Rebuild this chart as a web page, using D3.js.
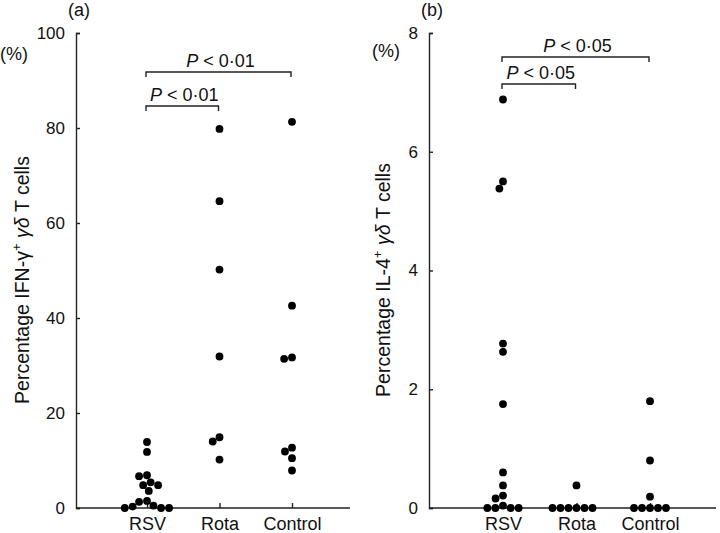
<!DOCTYPE html>
<html lang="en">
<head>
<meta charset="utf-8">
<script src="https://d3js.org/d3.v7.min.js"></script>
<style>
  body { margin: 0; background: #fff; overflow: hidden; }
  svg { display: block; }
  text { font-family: "Liberation Sans", Arial, Helvetica, sans-serif; fill: #111; }
</style>
</head>
<body>
<div id="my_dataviz"></div>
<script>

    // groups shown on the x axis
    var groups = ["RSV", "Rota", "Control"];

    // (a) percentage IFN-gamma+ gamma-delta T cells
    var ifnTicks = [0, 20, 40, 60, 80, 100];
    var rsvIfn  = [13.9, 11.8, 6.9, 6.7, 5.4, 4.8, 4.8, 3.6, 1.5, 1.3, 0.5, 0.3, 0, 0, 0];
    var rotaIfn = [79.8, 64.6, 50.2, 31.9, 14.9, 14.0, 10.2];
    var ctrlIfn = [81.3, 42.6, 31.7, 31.4, 12.7, 11.9, 10.5, 7.9];
    var ifnTests = [["RSV", "Control", "0·01"], ["RSV", "Rota", "0·01"]];

    // (b) percentage IL-4+ gamma-delta T cells
    var il4Ticks = [0, 2, 4, 6, 8];
    var rsvIl4  = [6.88, 5.5, 5.38, 2.77, 2.63, 1.75, 0.6, 0.38, 0.21, 0.16, 0.04, 0, 0, 0, 0];
    var rotaIl4 = [0.38, 0, 0, 0, 0, 0, 0];
    var ctrlIl4 = [1.8, 0.8, 0.19, 0, 0, 0, 0, 0];
    var il4Tests = [["RSV", "Control", "0·05"], ["RSV", "Rota", "0·05"]];

    var svg = d3.select("#my_dataviz")
      .append("svg")
        .attr("width", 720)
        .attr("height", 533);

    var r = 3.9, gap = 8;

    // simple beeswarm: put each dot as near the centre as it can go without touching
    function swarm(vals, y) {
      var placed = [];
      vals.forEach(function(v) {
        var py = y(v);
        var cands = [0];
        placed.forEach(function(p) {
          var dy = Math.abs(p.y - py);
          if (dy < gap) {
            var h = Math.sqrt(gap * gap - dy * dy);
            cands.push(p.dx - h, p.dx + h);
          }
        });
        cands.sort(function(a, b) { return (Math.abs(a) - Math.abs(b)) || (a - b); });
        var dx = cands.find(function(c) {
          return placed.every(function(p) {
            return (p.dx - c) * (p.dx - c) + (p.y - py) * (p.y - py) >= gap * gap - 0.01;
          });
        });
        placed.push({ v: v, y: py, dx: dx });
      });
      return placed;
    }

    function panel(opt) {
      var g = svg.append("g");

      var y = d3.scaleLinear().domain(opt.domain).range([508, 33]);
      var x = d3.scalePoint().domain(groups).range(opt.xr);

      // Y axis, ticks pointing inwards
      g.append("g")
        .attr("transform", "translate(" + opt.left + ",0)")
        .call(d3.axisLeft(y).tickValues(opt.ticks).tickSize(-4).tickPadding(11))
        .call(function(a) {
          a.selectAll("path, line").attr("stroke", "#222").attr("stroke-width", 1.4);
          a.selectAll("text").style("font-size", "17px").attr("fill", "#111")
            .style("font-family", "'Liberation Sans', Arial, sans-serif");
        });

      // X axis: ticks + labels from the scale, long base line drawn separately
      g.append("g")
        .attr("transform", "translate(0,508)")
        .call(d3.axisBottom(x).tickSize(-5).tickPadding(9))
        .call(function(a) {
          a.select(".domain").remove();
          a.selectAll("line").attr("stroke", "#222").attr("stroke-width", 1.4);
          a.selectAll("text").style("font-size", "18px").attr("fill", "#111")
            .style("font-family", "'Liberation Sans', Arial, sans-serif");
        });
      g.append("line")
        .attr("x1", opt.left).attr("x2", opt.right)
        .attr("y1", 508).attr("y2", 508)
        .attr("stroke", "#222").attr("stroke-width", 1.4);

      // dots
      opt.series.forEach(function(vals, i) {
        var cx = x(groups[i]);
        g.append("g").selectAll("circle")
          .data(swarm(vals, y))
          .enter()
          .append("circle")
            .attr("cx", function(d) { return cx + d.dx; })
            .attr("cy", function(d) { return d.y; })
            .attr("r", r)
            .style("fill", "#000");
      });

      // significance brackets
      opt.tests.forEach(function(t, i) {
        var by = opt.bracketY[i];
        var x1 = x(t[0]) - 1, x2 = x(t[1]) - 1;
        g.append("path")
          .attr("d", "M" + x1 + "," + (by + 5) + "V" + by + "H" + x2 + "V" + (by + 5))
          .attr("fill", "none").attr("stroke", "#222").attr("stroke-width", 1.4);
        var lab = g.append("text")
          .attr("x", (x1 + x2) / 2 + 2)
          .attr("y", by - 5)
          .attr("text-anchor", "middle")
          .style("font-size", "18px");
        lab.append("tspan").style("font-style", "italic").text("P");
        lab.append("tspan").text(" < " + t[2]);
      });

      // panel letter and unit
      g.append("text").attr("x", opt.left + 3).attr("y", 16)
        .attr("text-anchor", "middle").style("font-size", "18px").text(opt.letter);
      g.append("text").attr("x", opt.left - opt.unitDx).attr("y", opt.unitY)
        .style("font-size", "18px").text("(%)");

      // Y axis title
      var yt = g.append("text")
        .attr("transform", "translate(" + (opt.left - opt.titleDx) + ",280) rotate(-90)")
        .attr("text-anchor", "middle")
        .style("font-size", "19.5px");
      yt.append("tspan").text("Percentage " + opt.marker);
      yt.append("tspan").attr("dy", -8).style("font-size", "13px").text("+");
      yt.append("tspan").attr("dy", 8).text(" ");
      yt.append("tspan").style("font-style", "italic").text("γδ");
      yt.append("tspan").text(" T cells");
    }

    panel({
      left: 76, right: 350, xr: [147, 292], domain: [0, 100], ticks: ifnTicks,
      series: [rsvIfn, rotaIfn, ctrlIfn], tests: ifnTests, bracketY: [72, 106],
      letter: "(a)", unitY: 60, unitDx: 76, titleDx: 47, marker: "IFN-γ"
    });

    panel({
      left: 429, right: 716, xr: [503, 650], domain: [0, 8], ticks: il4Ticks,
      series: [rsvIl4, rotaIl4, ctrlIl4], tests: il4Tests, bracketY: [57, 84],
      letter: "(b)", unitY: 57, unitDx: 57, titleDx: 39, marker: "IL-4"
    });

</script>
</body>
</html>
